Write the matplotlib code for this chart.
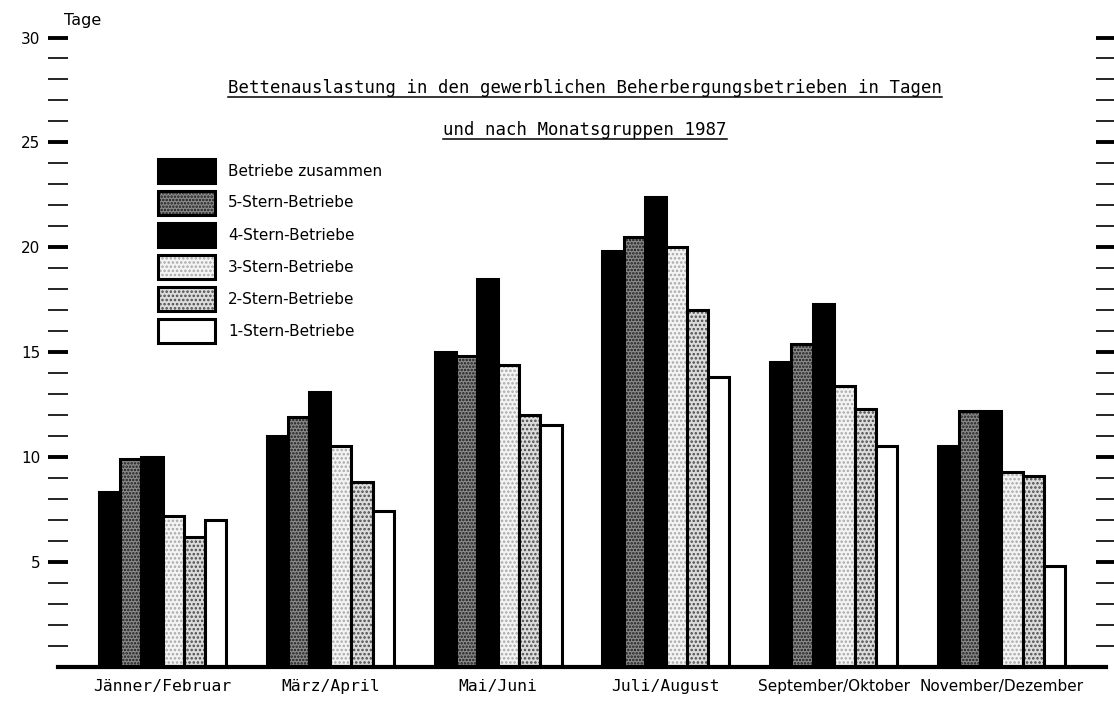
import numpy as np
import matplotlib
matplotlib.use('Agg')
from matplotlib import pyplot as plt
from matplotlib.patches import Rectangle
from matplotlib.lines import Line2D

# data (Tage)
months = ['Jänner/Februar', 'März/April', 'Mai/Juni', 'Juli/August',
          'September/Oktober', 'November/Dezember']
series = ['Betriebe zusammen', '5-Stern-Betriebe', '4-Stern-Betriebe',
          '3-Stern-Betriebe', '2-Stern-Betriebe', '1-Stern-Betriebe']
zusammen = [8.3, 11.0, 15.0, 19.8, 14.5, 10.5]
stern5 = [9.9, 11.9, 14.8, 20.5, 15.4, 12.2]
stern4 = [10.0, 13.1, 18.5, 22.4, 17.3, 12.2]
stern3 = [7.2, 10.5, 14.4, 20.0, 13.4, 9.3]
stern2 = [6.2, 8.8, 12.0, 17.0, 12.3, 9.1]
stern1 = [7.0, 7.4, 11.5, 13.8, 10.5, 4.8]
title_lines = ['Bettenauslastung in den gewerblichen Beherbergungsbetrieben in Tagen',
               'und nach Monatsgruppen 1987']
y_label = 'Tage'

values = [zusammen, stern5, stern4, stern3, stern2, stern1]
# (facecolor, hatch, hatch colour)
styles = [('black', None, 'black'),
          ('#8a8a8a', '.....', '#1a1a1a'),
          ('black', None, 'black'),
          ('#f4f4f4', '....', '#a8a8a8'),
          ('#dcdcdc', '....', '#4a4a4a'),
          ('white', None, 'white')]

W, H = 1114, 702
fig = plt.figure(figsize=(W / 100, H / 100), dpi=100)
ax = fig.add_axes([58 / W, (H - 666.5) / H, 1048 / W, 629 / H])

x = np.arange(len(months))
w = 0.126
outline = 2.2

for j, vals in enumerate(values):
    face, hatch, hcol = styles[j]
    pos = x + (j - 2.5) * w
    with plt.rc_context({'hatch.color': hcol, 'hatch.linewidth': 1.2}):
        ax.bar(pos, vals, width=w, color=face, hatch=hatch, linewidth=0, zorder=2 + j * 0.1)
    ax.bar(pos, vals, width=w, fill=False, edgecolor='black', linewidth=outline,
           zorder=2.05 + j * 0.1)

ax.axhline(0, color='black', linewidth=3, zorder=5, clip_on=False)

ax.set_xlim(-0.623, 5.623)
ax.set_ylim(0, 30)
for s in ax.spines.values():
    s.set_visible(False)

ax.set_yticks(np.arange(5, 31, 5))
ax.set_yticks(np.arange(1, 31, 1), minor=True)
ax.tick_params(axis='y', which='major', direction='inout', length=14.4, width=2.8,
               pad=5.5, labelsize=11, left=True, right=True, labelleft=True)
ax.tick_params(axis='y', which='minor', direction='inout', length=14.4, width=1.2,
               left=True, right=True)
ax.set_xticks(x)
ax.set_xticklabels(months, family='DejaVu Sans Mono', fontsize=11.8)
# the last two labels are set narrower in the original
for lab in ax.get_xticklabels()[4:]:
    lab.set_family('DejaVu Sans')
    lab.set_fontsize(11)
ax.tick_params(axis='x', length=0, pad=9)

fig.text(64 / W, 1 - 20 / H, y_label, fontsize=11.5, ha='left', va='center')

# underlined title
fig.canvas.draw()
renderer = fig.canvas.get_renderer()
for line, base in zip(title_lines, [93, 135]):
    t = fig.text(585 / W, 1 - base / H, line, family='DejaVu Sans Mono', fontsize=12.5,
                 ha='center', va='baseline')
    bb = t.get_window_extent(renderer)
    yl = 1 - (base + 3.5) / H
    fig.add_artist(Line2D([bb.x0 / W, bb.x1 / W], [yl, yl], color='black',
                          linewidth=1.1, transform=fig.transFigure))

# legend drawn by hand so that hatch colours survive
for j, name in enumerate(series):
    face, hatch, hcol = styles[j]
    top = 159 + 32 * j
    rx, ry, rw, rh = 158 / W, 1 - (top + 24) / H, 57 / W, 24 / H
    with plt.rc_context({'hatch.color': hcol, 'hatch.linewidth': 1.2}):
        fig.add_artist(Rectangle((rx, ry), rw, rh, facecolor=face, hatch=hatch,
                                 linewidth=0, transform=fig.transFigure))
    fig.add_artist(Rectangle((rx, ry), rw, rh, fill=False, edgecolor='black',
                             linewidth=outline, transform=fig.transFigure))
    fig.text(228 / W, 1 - (top + 12) / H, name, fontsize=11, ha='left', va='center')

fig.savefig('out.png', dpi=100)
